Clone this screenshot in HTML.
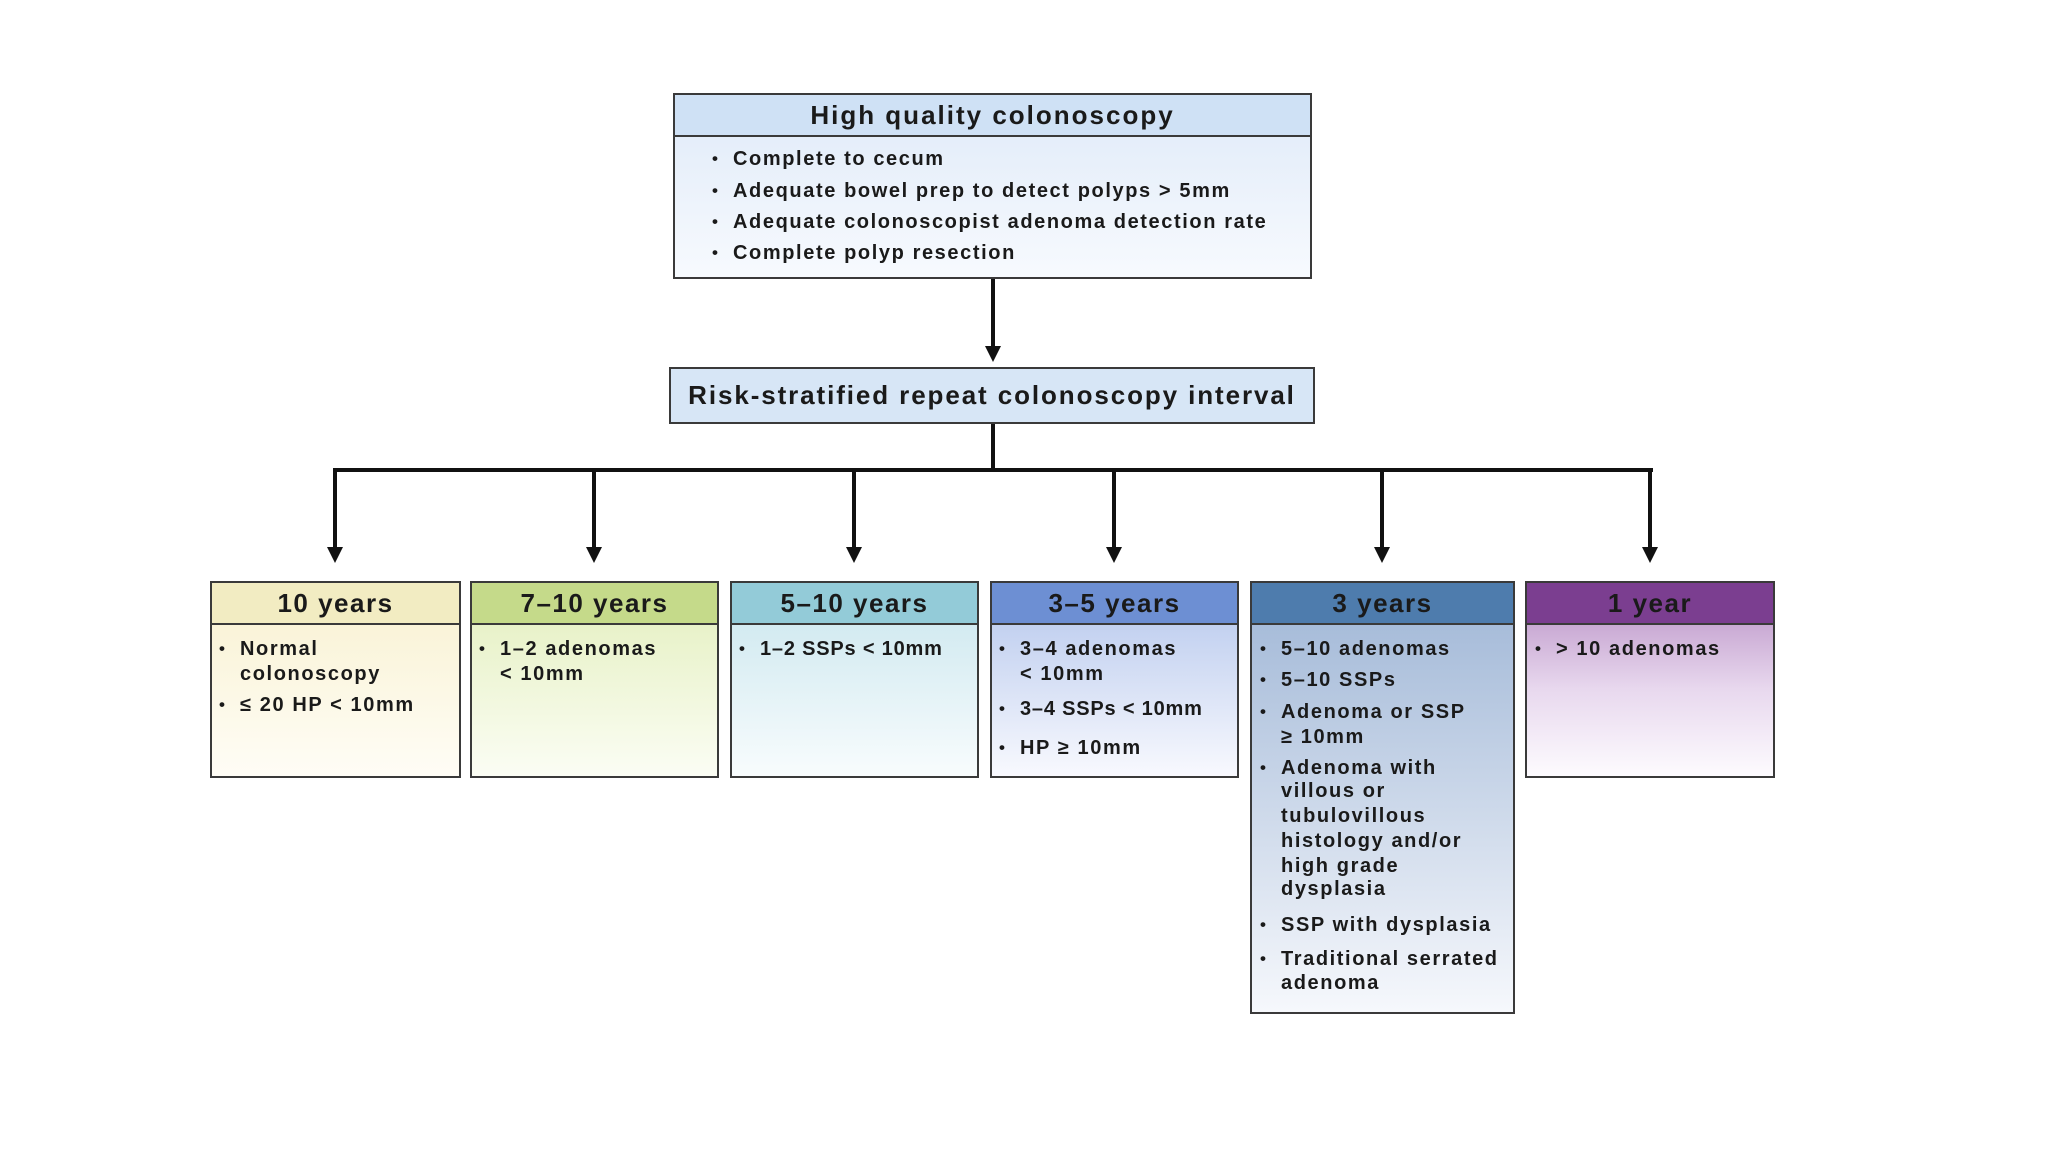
<!DOCTYPE html>
<html><head><meta charset="utf-8"><style>
body{margin:0;width:2048px;height:1152px;background:#fff;position:relative;overflow:hidden;font-family:"Liberation Sans",Arial,sans-serif;font-weight:bold;color:#1a1a1a}
.b{position:absolute;border:2.5px solid #3a3a3a;box-sizing:border-box}
.h{position:absolute;left:0;right:0;top:0;border-bottom:2.5px solid #3a3a3a;box-sizing:border-box;text-align:center;letter-spacing:1.5px}
.t{position:absolute;white-space:nowrap;line-height:24px;font-size:20px;letter-spacing:1.6px}
.t i{font-style:normal;position:absolute;left:-21px;font-size:17px;letter-spacing:0}
.ln{position:absolute;background:#111}
.ar{position:absolute;width:0;height:0;border-left:8px solid transparent;border-right:8px solid transparent;border-top:16px solid #111}
</style></head><body>
<div class="b" style="left:673px;top:93px;width:639px;height:186px;background:linear-gradient(#dfeaf8,#f7fafe)">
 <div class="h" style="height:42px;background:#cfe1f5;font-size:26px;line-height:40px;letter-spacing:2px">High quality colonoscopy</div>
</div>
<div class="t" style="left:733px;top:147px"><i>•</i>Complete to cecum</div>
<div class="t" style="left:733px;top:179px"><i>•</i>Adequate bowel prep to detect polyps &gt; 5mm</div>
<div class="t" style="left:733px;top:210px"><i>•</i>Adequate colonoscopist adenoma detection rate</div>
<div class="t" style="left:733px;top:241px"><i>•</i>Complete polyp resection</div>
<div class="ln" style="left:991px;top:279px;width:4px;height:70px"></div>
<div class="ar" style="left:985px;top:346px"></div>
<div class="b" style="left:669px;top:367px;width:646px;height:57px;background:#d7e6f6;text-align:center;font-size:26px;line-height:52px;letter-spacing:1.9px">Risk-stratified repeat colonoscopy interval</div>
<div class="ln" style="left:991px;top:424px;width:4px;height:48px"></div>
<div class="ln" style="left:333px;top:468px;width:1320px;height:4px"></div>
<div class="ln" style="left:333px;top:468px;width:4px;height:82px"></div><div class="ar" style="left:327px;top:547px"></div>
<div class="ln" style="left:592px;top:468px;width:4px;height:82px"></div><div class="ar" style="left:586px;top:547px"></div>
<div class="ln" style="left:852px;top:468px;width:4px;height:82px"></div><div class="ar" style="left:846px;top:547px"></div>
<div class="ln" style="left:1112px;top:468px;width:4px;height:82px"></div><div class="ar" style="left:1106px;top:547px"></div>
<div class="ln" style="left:1380px;top:468px;width:4px;height:82px"></div><div class="ar" style="left:1374px;top:547px"></div>
<div class="ln" style="left:1648px;top:468px;width:4px;height:82px"></div><div class="ar" style="left:1642px;top:547px"></div>
<div class="b" style="left:210px;top:581px;width:251px;height:197px;background:linear-gradient(#f8f1d0,#fffdf6)"><div class="h" style="height:42px;background:#f2ecc2;font-size:26px;line-height:40px">10 years</div></div>
<div class="b" style="left:470px;top:581px;width:249px;height:197px;background:linear-gradient(#e3efbd,#fbfdf4)"><div class="h" style="height:42px;background:#c5da8a;font-size:26px;line-height:40px">7–10 years</div></div>
<div class="b" style="left:730px;top:581px;width:249px;height:197px;background:linear-gradient(#c9e6ee,#f8fcfd)"><div class="h" style="height:42px;background:#93cbd8;font-size:26px;line-height:40px">5–10 years</div></div>
<div class="b" style="left:990px;top:581px;width:249px;height:197px;background:linear-gradient(#b4c6ec,#f8f9fe)"><div class="h" style="height:42px;background:#6d8fd3;font-size:26px;line-height:40px">3–5 years</div></div>
<div class="b" style="left:1250px;top:581px;width:265px;height:433px;background:linear-gradient(#9fb6d6,#f6f8fc)"><div class="h" style="height:42px;background:#4e7cad;font-size:26px;line-height:40px">3 years</div></div>
<div class="b" style="left:1525px;top:581px;width:250px;height:197px;background:linear-gradient(#b68cc3 0%,#e8d8ee 55%,#fdfbfe)"><div class="h" style="height:42px;background:#7b3e90;font-size:26px;line-height:40px">1 year</div></div>
<div class="t" style="left:240px;top:637px"><i>•</i>Normal</div>
<div class="t" style="left:240px;top:662px">colonoscopy</div>
<div class="t" style="left:240px;top:693px"><i>•</i>≤ 20 HP &lt; 10mm</div>
<div class="t" style="left:500px;top:637px"><i>•</i>1–2 adenomas</div>
<div class="t" style="left:500px;top:662px">&lt; 10mm</div>
<div class="t" style="left:760px;top:637px;letter-spacing:0.8px"><i>•</i>1–2 SSPs &lt; 10mm</div>
<div class="t" style="left:1020px;top:637px"><i>•</i>3–4 adenomas</div>
<div class="t" style="left:1020px;top:662px">&lt; 10mm</div>
<div class="t" style="left:1020px;top:697px;letter-spacing:0.8px"><i>•</i>3–4 SSPs &lt; 10mm</div>
<div class="t" style="left:1020px;top:736px"><i>•</i>HP ≥ 10mm</div>
<div class="t" style="left:1281px;top:637px"><i>•</i>5–10 adenomas</div>
<div class="t" style="left:1281px;top:668px"><i>•</i>5–10 SSPs</div>
<div class="t" style="left:1281px;top:700px"><i>•</i>Adenoma or SSP</div>
<div class="t" style="left:1281px;top:725px">≥ 10mm</div>
<div class="t" style="left:1281px;top:756px"><i>•</i>Adenoma with</div>
<div class="t" style="left:1281px;top:779px">villous or</div>
<div class="t" style="left:1281px;top:804px">tubulovillous</div>
<div class="t" style="left:1281px;top:829px">histology and/or</div>
<div class="t" style="left:1281px;top:854px">high grade</div>
<div class="t" style="left:1281px;top:877px">dysplasia</div>
<div class="t" style="left:1281px;top:913px"><i>•</i>SSP with dysplasia</div>
<div class="t" style="left:1281px;top:947px"><i>•</i>Traditional serrated</div>
<div class="t" style="left:1281px;top:971px">adenoma</div>
<div class="t" style="left:1556px;top:637px"><i>•</i>&gt; 10 adenomas</div>
</body></html>
